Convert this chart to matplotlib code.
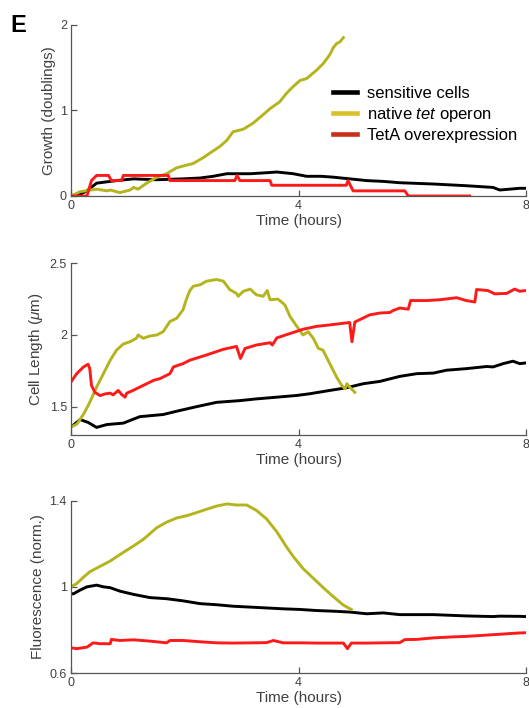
import matplotlib
matplotlib.use("Agg")
import matplotlib.pyplot as plt
from matplotlib.lines import Line2D

plt.rcParams['font.family'] = ['Liberation Sans', 'DejaVu Sans']
plt.rcParams['mathtext.fontset'] = 'custom'
plt.rcParams['mathtext.rm'] = 'Liberation Sans'
plt.rcParams['mathtext.it'] = 'Liberation Sans:italic'

# ---------------- data ----------------
series_names = ["sensitive cells", r"native $\mathit{tet}$ operon", "TetA overexpression"]

# Panel 1: growth (doublings)
growth_sens_t = [0, 0.16, 0.28, 0.45, 0.80, 1.10, 1.50, 1.97, 2.27, 2.50, 2.74, 3.15, 3.40, 3.62, 3.91, 4.14,
                 4.40, 4.61, 4.90, 5.20, 5.50, 5.78, 6.37, 6.95, 7.42, 7.54, 7.89, 8.0]
growth_sens_v = [0, 0.02, 0.06, 0.15, 0.18, 0.20, 0.19, 0.20, 0.21, 0.23, 0.26, 0.26, 0.27, 0.28, 0.26, 0.23,
                 0.23, 0.22, 0.20, 0.18, 0.17, 0.155, 0.14, 0.12, 0.10, 0.07, 0.09, 0.09]
growth_tet_t = [0, 0.16, 0.45, 0.63, 0.69, 0.80, 0.86, 1.04, 1.10, 1.18, 1.33, 1.51, 1.68, 1.86, 2.03, 2.15,
                2.33, 2.44, 2.62, 2.74, 2.85, 3.03, 3.20, 3.38, 3.50, 3.67, 3.79, 3.91, 4.03, 4.14, 4.32,
                4.44, 4.55, 4.61, 4.67, 4.73, 4.79]
growth_tet_v = [0, 0.05, 0.08, 0.06, 0.07, 0.05, 0.04, 0.07, 0.10, 0.08, 0.15, 0.22, 0.26, 0.33, 0.36, 0.38,
                0.45, 0.50, 0.58, 0.65, 0.75, 0.78, 0.85, 0.95, 1.02, 1.10, 1.20, 1.28, 1.35, 1.37, 1.47,
                1.55, 1.65, 1.73, 1.78, 1.80, 1.85]
growth_teta_t = [0, 0.28, 0.36, 0.45, 0.66, 0.71, 0.89, 0.92, 1.71, 1.74, 2.88, 2.92, 2.97, 3.50, 3.53,
                 4.84, 4.87, 4.96, 5.87, 5.93, 7.01]
growth_teta_v = [0, 0, 0.18, 0.24, 0.24, 0.18, 0.18, 0.24, 0.24, 0.18, 0.18, 0.24, 0.18, 0.18, 0.125,
                 0.125, 0.18, 0.06, 0.06, 0, 0]

# Panel 2: cell length (um)
len_sens_t = [0.01, 0.16, 0.30, 0.45, 0.63, 0.92, 1.21, 1.62, 1.88, 2.21, 2.56, 2.97, 3.26, 3.62, 3.97,
              4.20, 4.55, 4.85, 5.14, 5.43, 5.78, 6.08, 6.37, 6.60, 6.95, 7.31, 7.42, 7.60, 7.77, 7.89, 8.0]
len_sens_v = [1.36, 1.41, 1.39, 1.355, 1.375, 1.385, 1.43, 1.445, 1.47, 1.50, 1.53, 1.542, 1.554, 1.566, 1.578,
              1.59, 1.613, 1.632, 1.66, 1.676, 1.711, 1.73, 1.734, 1.754, 1.765, 1.78, 1.777, 1.80, 1.817, 1.80, 1.805]
len_tet_t = [0.01, 0.10, 0.22, 0.33, 0.45, 0.57, 0.69, 0.80, 0.92, 1.04, 1.15, 1.18, 1.27, 1.39, 1.51, 1.62,
             1.74, 1.86, 1.97, 2.03, 2.09, 2.15, 2.27, 2.38, 2.56, 2.68, 2.79, 2.91, 2.94, 3.03, 3.15,
             3.26, 3.38, 3.45, 3.50, 3.64, 3.76, 3.85, 3.97, 4.08, 4.17, 4.26, 4.35, 4.43, 4.55, 4.67,
             4.76, 4.82, 4.85, 4.90, 4.99]
len_tet_v = [1.36, 1.377, 1.447, 1.53, 1.636, 1.73, 1.824, 1.894, 1.937, 1.953, 1.977, 2.0, 1.977, 1.993, 2.0,
             2.023, 2.094, 2.117, 2.176, 2.25, 2.31, 2.34, 2.35, 2.375, 2.387, 2.375, 2.317, 2.29, 2.27,
             2.305, 2.32, 2.28, 2.27, 2.31, 2.246, 2.25, 2.21, 2.13, 2.06, 2.0, 2.023, 1.977, 1.906,
             1.894, 1.80, 1.706, 1.648, 1.624, 1.66, 1.636, 1.60]
len_teta_t = [0.01, 0.10, 0.22, 0.30, 0.33, 0.36, 0.42, 0.51, 0.60, 0.69, 0.74, 0.83, 0.89, 0.95, 0.98,
              1.09, 1.27, 1.45, 1.56, 1.74, 1.80, 1.97, 2.09, 2.38, 2.68, 2.91, 2.98, 3.06, 3.26, 3.50,
              3.54, 3.62, 3.85, 4.08, 4.32, 4.55, 4.90, 4.94, 4.99, 5.25, 5.43, 5.61, 5.66, 5.78, 5.93,
              5.97, 6.25, 6.49, 6.78, 6.95, 7.10, 7.13, 7.33, 7.45, 7.66, 7.80, 7.89, 8.0]
len_teta_v = [1.678, 1.73, 1.777, 1.796, 1.765, 1.648, 1.60, 1.577, 1.589, 1.594, 1.582, 1.613, 1.585, 1.566,
              1.594, 1.613, 1.648, 1.683, 1.695, 1.73, 1.777, 1.80, 1.824, 1.86, 1.90, 1.92, 1.836, 1.906,
              1.93, 1.946, 1.93, 1.98, 2.01, 2.04, 2.06, 2.07, 2.087, 1.953, 2.09, 2.14, 2.153, 2.157,
              2.17, 2.188, 2.18, 2.24, 2.24, 2.246, 2.26, 2.24, 2.23, 2.317, 2.31, 2.287, 2.29, 2.32,
              2.305, 2.31]

# Panel 3: fluorescence (normalised)
fl_sens_t = [0.0, 0.04, 0.16, 0.28, 0.45, 0.57, 0.69, 0.86, 1.10, 1.39, 1.68, 1.97, 2.27, 2.56, 2.85, 3.15,
             3.44, 3.73, 4.03, 4.32, 4.61, 4.90, 5.20, 5.49, 5.78, 6.37, 6.95, 7.42, 7.54, 7.89, 8.0]
fl_sens_v = [0.97, 0.967, 0.985, 1.0, 1.008, 1.0, 0.996, 0.98, 0.965, 0.95, 0.945, 0.935, 0.922, 0.917, 0.91,
             0.906, 0.902, 0.898, 0.895, 0.89, 0.887, 0.883, 0.875, 0.879, 0.871, 0.871, 0.865, 0.862,
             0.864, 0.863, 0.862]
fl_tet_t = [0.0, 0.10, 0.22, 0.33, 0.51, 0.69, 0.92, 1.10, 1.27, 1.51, 1.68, 1.86, 2.03, 2.21, 2.38, 2.56,
            2.74, 2.91, 3.09, 3.26, 3.44, 3.62, 3.79, 3.91, 4.08, 4.26, 4.44, 4.61, 4.79, 4.93]
fl_tet_v = [1.0, 1.015, 1.045, 1.07, 1.095, 1.12, 1.16, 1.19, 1.22, 1.275, 1.30, 1.32, 1.33, 1.345, 1.36,
            1.375, 1.385, 1.38, 1.38, 1.355, 1.315, 1.255, 1.185, 1.14, 1.085, 1.04, 0.995, 0.955, 0.915,
            0.895]
fl_teta_t = [0.0, 0.10, 0.28, 0.39, 0.51, 0.69, 0.71, 0.86, 1.10, 1.39, 1.68, 1.74, 1.97, 2.27, 2.56, 2.85,
             3.15, 3.44, 3.56, 3.73, 4.03, 4.32, 4.61, 4.79, 4.86, 4.93, 5.20, 5.49, 5.78, 5.87, 6.08,
             6.37, 6.66, 6.95, 7.25, 7.54, 7.89, 8.0]
fl_teta_v = [0.717, 0.713, 0.72, 0.74, 0.736, 0.736, 0.756, 0.751, 0.754, 0.748, 0.74, 0.751, 0.751, 0.745,
             0.74, 0.739, 0.74, 0.741, 0.751, 0.74, 0.74, 0.739, 0.739, 0.739, 0.713, 0.739, 0.739, 0.74,
             0.741, 0.755, 0.756, 0.763, 0.767, 0.77, 0.775, 0.78, 0.786, 0.787]

x_ticks = [0, 4, 8]
panel_ylabels = ["Growth (doublings)", r"Cell Length ($\mu$m)", "Fluorescence (norm.)"]
panel_ylims = [(0, 2), (1.3, 2.5), (0.6, 1.4)]
panel_yticks = [[0, 1, 2], [1.5, 2, 2.5], [0.6, 1, 1.4]]
panel_yticklabels = [["0", "1", "2"], ["1.5", "2", "2.5"], ["0.6", "1", "1.4"]]

# ---------------- style ----------------
line_colors = ["#000000", "#b4b41e", "#ff1a1a"]
legend_colors = ["#000000", "#d8c028", "#c8301a"]
spine_color = "#555555"
text_color = "#404040"

fig = plt.figure(figsize=(5.29, 7.08), dpi=100)
W, H = 529, 708
ax_left, ax_right = 71, 526
panel_px = [(24.7, 196.0), (263.3, 435.3), (500.7, 673.0)]  # (top, bottom) in pixels

panels = [
    [(growth_sens_t, growth_sens_v), (growth_tet_t, growth_tet_v), (growth_teta_t, growth_teta_v)],
    [(len_sens_t, len_sens_v), (len_tet_t, len_tet_v), (len_teta_t, len_teta_v)],
    [(fl_sens_t, fl_sens_v), (fl_tet_t, fl_tet_v), (fl_teta_t, fl_teta_v)],
]

axes = []
for i, (top, bot) in enumerate(panel_px):
    ax = fig.add_axes([ax_left / W, 1 - bot / H, (ax_right - ax_left) / W, (bot - top) / H])
    axes.append(ax)
    for (t, v), c in zip(panels[i], line_colors):
        ax.plot(t, v, color=c, lw=2.1, solid_joinstyle='round')
    ax.set_xlim(0, 8)
    ax.set_ylim(*panel_ylims[i])
    ax.set_xticks(x_ticks)
    ax.set_xticklabels([str(x) for x in x_ticks])
    ax.set_yticks(panel_yticks[i])
    ax.set_yticklabels(panel_yticklabels[i])
    for s in ["top", "right"]:
        ax.spines[s].set_visible(False)
    for s in ["left", "bottom"]:
        ax.spines[s].set_color(spine_color)
        ax.spines[s].set_linewidth(0.9)
    ax.tick_params(direction="in", length=4, width=0.9, color=spine_color,
                   labelsize=9, labelcolor=text_color, pad=3)
    ax.set_xlabel("Time (hours)", fontsize=11, color=text_color, labelpad=1)
    ax.set_ylabel(panel_ylabels[i], fontsize=11, color=text_color, labelpad=3)

handles = [Line2D([], [], color=c, lw=3.3) for c in legend_colors]
axes[0].legend(handles, series_names, loc="upper left", bbox_to_anchor=(0.576, 0.643),
               frameon=False, fontsize=12, handlelength=1.45, handletextpad=0.6,
               labelspacing=0.25, borderaxespad=0, borderpad=0)

fig.text(10 / W, 1 - 26 / H, "E", fontsize=17, fontweight="bold", va="center", ha="left")

fig.savefig("out.png", dpi=100)
